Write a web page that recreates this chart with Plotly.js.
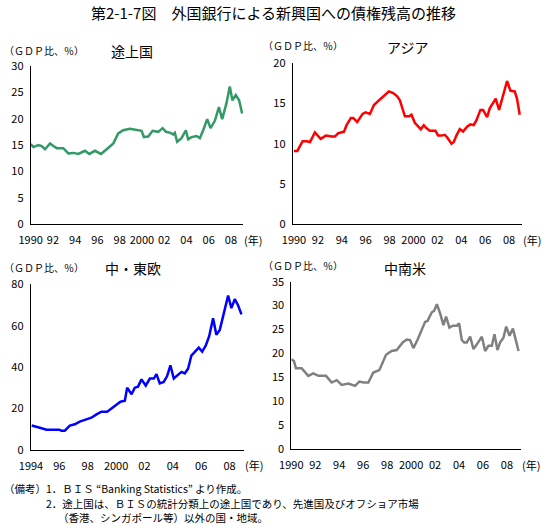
<!DOCTYPE html>
<html><head><meta charset="utf-8">
<script src="https://cdn.plot.ly/plotly-3.0.1.min.js"></script>
<style>html,body{margin:0;padding:0;background:#fff}#chart{width:547px;height:526px}</style>
</head><body><div id="chart"></div>
<script>
// 途上国
const devYears = [1990.00,1990.24,1990.69,1990.99,1991.29,1991.74,1992.04,1992.34,1992.93,1993.38,1993.83,1994.28,1994.88,1995.27,1995.78,1996.32,1996.83,1997.43,1997.87,1998.32,1998.92,1999.52,1999.97,2000.18,2000.57,2000.96,2001.47,2001.86,2002.16,2002.57,2002.81,2002.96,2003.17,2003.56,2003.95,2004.16,2004.46,2004.91,2005.21,2005.51,2005.87,2006.17,2006.56,2006.92,2007.22,2007.60,2007.90,2008.14,2008.44,2008.74,2009.01];
const devValues = [15.2,14.6,15.0,14.8,14.2,15.3,14.8,14.4,14.4,13.4,13.5,13.3,13.9,13.3,13.9,13.3,14.2,15.3,17.2,17.8,18.1,17.8,17.7,16.5,16.6,17.7,17.5,18.2,17.5,17.3,17.0,17.3,15.6,16.3,17.8,16.1,16.5,16.7,16.3,17.8,19.9,18.2,19.6,22.2,19.9,22.9,26.1,23.5,24.5,23.5,21.0];
// アジア
const asiaYears = [1990.00,1990.28,1990.72,1991.06,1991.34,1991.75,1992.23,1992.67,1993.15,1993.43,1993.70,1994.18,1994.40,1994.76,1994.96,1995.29,1995.74,1995.99,1996.35,1996.69,1997.19,1997.60,1997.94,1998.30,1998.63,1998.86,1999.08,1999.28,1999.64,1999.83,2000.11,2000.39,2000.61,2000.86,2001.09,2001.37,2001.84,2002.06,2002.34,2002.62,2002.81,2003.18,2003.37,2003.59,2003.87,2004.15,2004.48,2004.76,2005.04,2005.26,2005.60,2005.82,2006.16,2006.38,2006.88,2007.16,2007.49,2007.83,2008.11,2008.47,2008.66,2008.89];
const asiaValues = [9.1,9.1,10.3,10.3,10.2,11.4,10.6,11.0,10.9,10.9,11.3,11.5,12.3,13.2,13.2,12.7,13.7,13.9,13.7,14.8,15.5,16.1,16.5,16.3,15.9,15.4,14.4,13.4,13.4,13.6,12.6,12.1,11.8,12.3,11.9,11.6,11.6,11.0,11.0,11.1,10.8,10.0,10.2,11.0,11.8,11.5,12.1,12.4,12.3,12.9,14.2,14.2,13.3,14.4,15.6,14.2,15.9,17.8,16.6,16.5,15.6,13.6];
// 中・東欧
const ceeYears = [1994.05,1994.40,1994.75,1995.09,1995.56,1995.98,1996.15,1996.38,1996.74,1997.09,1997.44,1997.86,1998.26,1998.62,1998.97,1999.37,1999.68,2000.03,2000.31,2000.62,2000.78,2001.09,2001.32,2001.55,2001.79,2002.09,2002.38,2002.66,2002.85,2003.08,2003.36,2003.60,2003.83,2004.07,2004.37,2004.61,2004.84,2005.08,2005.31,2005.55,2005.83,2006.07,2006.32,2006.56,2006.84,2007.07,2007.31,2007.54,2007.90,2008.13,2008.37,2008.60,2008.84];
const ceeValues = [11.8,11.3,10.5,9.8,9.8,9.8,9.3,9.3,11.8,12.4,13.7,14.5,15.6,17.2,18.5,18.5,20.1,22.1,23.3,23.8,30.1,26.9,30.1,30.6,34.1,31.1,34.5,34.5,36.6,32.2,32.9,35.7,40.9,34.5,36.1,37.7,37.0,39.3,45.6,47.2,49.4,47.5,50.4,54.8,63.6,55.6,58.0,64.4,74.6,68.5,72.8,69.9,65.5];
// 中南米
const latYears = [1990.00,1990.22,1990.39,1990.86,1991.00,1991.42,1991.84,1992.26,1992.90,1993.37,1993.79,1994.21,1994.76,1995.32,1995.68,1996.02,1996.43,1996.85,1997.35,1997.69,1997.91,1998.38,1998.80,1999.30,1999.64,1999.92,2000.19,2000.53,2000.81,2001.17,2001.37,2001.73,2001.92,2002.15,2002.42,2002.70,2002.92,2003.20,2003.48,2003.82,2004.01,2004.23,2004.43,2004.65,2004.93,2005.21,2005.49,2005.91,2006.18,2006.46,2006.74,2006.96,2007.21,2007.43,2007.71,2007.94,2008.22,2008.50,2008.69,2008.97];
const latValues = [18.8,18.4,16.9,16.9,16.5,15.3,15.8,15.3,15.3,13.9,14.4,13.4,13.7,13.2,14.1,13.9,13.9,16.0,16.5,18.4,19.7,20.5,20.7,22.3,22.9,22.8,21.1,22.8,24.5,26.6,26.8,28.6,28.9,30.3,28.4,25.9,27.7,25.4,25.8,25.8,26.3,22.8,22.3,22.3,23.5,20.9,21.9,23.5,20.5,21.6,21.6,24.0,20.7,22.3,23.3,25.6,23.7,25.2,23.3,20.5];

const tickVals90 = [1990,1992,1994,1996,1998,2000,2002,2004,2006,2008];
const tickText90 = ["1990","92","94","96","98","2000","02","04","06","08"];
const tickVals94 = [1994,1996,1998,2000,2002,2004,2006,2008];
const tickText94 = ["1994","96","98","2000","02","04","06","08"];

const panelTitles = ["途上国","アジア","中・東欧","中南米"];
const unitLabel = "（ＧＤＰ比、％）";
const yearLabel = "(年)";
const chartTitle = "第2-1-7図　外国銀行による新興国への債権残高の推移";
const notes = ["（備考）1．ＢＩＳ “Banking Statistics” より作成。",
  "2．途上国は、ＢＩＳの統計分類上の途上国であり、先進国及びオフショア市場",
  "（香港、シンガポール等）以外の国・地域。"];

const FONT = "Noto Sans CJK JP, DejaVu Sans, sans-serif";
const W = 547, H = 526;
const px = v => v / W, py = v => 1 - v / H;

const traces = [
  {x: devYears, y: devValues, xaxis: 'x', yaxis: 'y', line: {color: '#339966', width: 2.5}},
  {x: asiaYears, y: asiaValues, xaxis: 'x2', yaxis: 'y2', line: {color: '#ff0000', width: 2.5}},
  {x: ceeYears, y: ceeValues, xaxis: 'x3', yaxis: 'y3', line: {color: '#0000ff', width: 2.5}},
  {x: latYears, y: latValues, xaxis: 'x4', yaxis: 'y4', line: {color: '#808080', width: 2.5}}
].map(t => Object.assign({type: 'scatter', mode: 'lines', hoverinfo: 'skip', showlegend: false}, t));

function xax(domain, range, vals, text, anchor) {
  return {domain, range, tickvals: vals, ticktext: text, anchor, showline: true, linecolor: '#000', linewidth: 1,
    showgrid: false, zeroline: false, ticks: '', ticklabelstandoff: 6, tickfont: {family: FONT, size: 11, color: '#000'}};
}
function yax(domain, range, dtick, anchor) {
  return {domain, range, dtick, tick0: 0, anchor, showline: true, linecolor: '#000', linewidth: 1,
    showgrid: false, zeroline: false, ticks: '', ticklabelstandoff: 4, tickfont: {family: FONT, size: 11, color: '#000'}};
}

const layout = {
  width: W, height: H, margin: {l: 0, r: 0, t: 0, b: 0}, paper_bgcolor: '#fff', plot_bgcolor: '#fff',
  showlegend: false,
  title: {text: chartTitle, x: 0.5, xanchor: 'center', y: py(14), yanchor: 'middle', font: {family: FONT, size: 15, color: '#000'}},
  xaxis: xax([px(30.7), px(243)], [1990, 2009.09], tickVals90, tickText90, 'y'),
  yaxis: yax([py(224), py(66)], [0, 30], 5, 'x'),
  xaxis2: xax([px(292.7), px(522)], [1989.89, 2009.08], tickVals90, tickText90, 'y2'),
  yaxis2: yax([py(224), py(63.3)], [0, 20], 5, 'x2'),
  xaxis3: xax([px(30.7), px(244)], [1993.98, 2009.02], tickVals94, tickText94, 'y3'),
  yaxis3: yax([py(450), py(284.3)], [0, 80], 20, 'x3'),
  xaxis4: xax([px(291.3), px(520.7)], [1990, 2009.15], tickVals90, tickText90, 'y4'),
  yaxis4: yax([py(449), py(281.7)], [0, 35], 5, 'x4'),
  annotations: []
};

const ann = (text, x, y, xanchor, size) => ({text, x: px(x), y: py(y), xref: 'paper', yref: 'paper',
  xanchor, yanchor: 'middle', showarrow: false, borderpad: 0, font: {family: FONT, size, color: '#000'}});
const A = layout.annotations;
// unit labels and panel titles
A.push(ann(unitLabel, 3, 50, 'left', 10));
A.push(ann(panelTitles[0], 132, 51, 'center', 14));
A.push(ann(unitLabel, 262, 46, 'left', 10));
A.push(ann(panelTitles[1], 407, 47, 'center', 14));
A.push(ann(unitLabel, 3, 267, 'left', 10));
A.push(ann(panelTitles[2], 133, 268, 'center', 14));
A.push(ann(unitLabel, 262, 265, 'left', 10));
A.push(ann(panelTitles[3], 405, 268, 'center', 14));
// year labels
A.push(ann(yearLabel, 243, 240, 'left', 11));
A.push(ann(yearLabel, 522, 240, 'left', 11));
A.push(ann(yearLabel, 244, 465, 'left', 11));
A.push(ann(yearLabel, 521, 465, 'left', 11));
// notes
A.push(ann(notes[0], 3, 488, 'left', 10.5));
A.push(ann(notes[1], 45, 503, 'left', 10.5));
A.push(ann(notes[2], 57, 517.5, 'left', 10.5));

Plotly.newPlot('chart', traces, layout, {displayModeBar: false, staticPlot: true});
</script></body></html>
